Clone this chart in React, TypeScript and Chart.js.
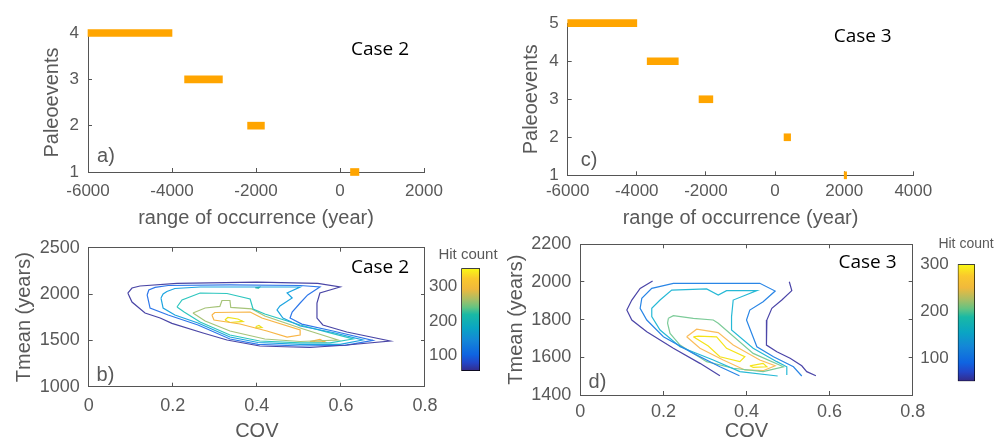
import React, { useEffect, useRef } from 'react';
import { Chart, registerables } from 'chart.js';

Chart.register(...registerables);

// ---------------- data ----------------
// panel a (Case 2): paleoevents and their range of occurrence (years)
const eventsCase2 = [4, 3, 2, 1];
const startCase2 = [-6000, -3700, -2200, 250];
const endCase2 = [-4000, -2800, -1800, 450];
// panel c (Case 3)
const eventsCase3 = [5, 4, 3, 2, 1];
const startCase3 = [-6000, -3700, -2200, 260, 2000];
const endCase3 = [-4000, -2800, -1800, 450, 2070];

const occurrenceTicksA = [-6000, -4000, -2000, 0, 2000];
const occurrenceTicksC = [-6000, -4000, -2000, 0, 2000, 4000];
const eventTicksA = [1, 2, 3, 4];
const eventTicksC = [1, 2, 3, 4, 5];
const covTicks = [0, 0.2, 0.4, 0.6, 0.8];
const tmeanTicksB = [1000, 1500, 2000, 2500];
const tmeanTicksD = [1400, 1600, 1800, 2000, 2200];
const colorbarTicks = [100, 200, 300];
const colorbarRangeB = [55, 352];
const colorbarRangeD = [50, 300];

// panel b contour lines (COV, Tmean), outer -> inner
const bLevel1 = [[0.093, 2011], [0.103, 2065], [0.122, 2087], [0.21, 2115], [0.4, 2128], [0.545, 2115], [0.598, 2076], [0.55, 2011], [0.543, 1903], [0.543, 1741], [0.557, 1666], [0.614, 1590], [0.717, 1493], [0.614, 1450], [0.526, 1423], [0.407, 1439], [0.329, 1504], [0.272, 1580], [0.198, 1684], [0.17, 1741], [0.134, 1795], [0.103, 1914], [0.093, 2011]];
const bLevel2 = [[0.139, 1990], [0.143, 2044], [0.158, 2071], [0.189, 2092], [0.336, 2098], [0.503, 2092], [0.55, 2076], [0.521, 1990], [0.503, 1903], [0.484, 1806], [0.479, 1741], [0.507, 1676], [0.581, 1601], [0.676, 1499], [0.61, 1445], [0.503, 1439], [0.403, 1456], [0.336, 1515], [0.26, 1666], [0.189, 1774], [0.146, 1849], [0.139, 1990]];
const bLevel3 = [[0.172, 1957], [0.177, 2000], [0.186, 2027], [0.205, 2060], [0.265, 2076], [0.503, 2076], [0.472, 2011], [0.484, 1957], [0.455, 1871], [0.448, 1828], [0.462, 1741], [0.503, 1655], [0.581, 1585], [0.652, 1504], [0.598, 1456], [0.503, 1456], [0.403, 1477], [0.336, 1536], [0.26, 1688], [0.205, 1774], [0.177, 1849], [0.172, 1957]];
const bLevel4 = [[0.21, 1860], [0.222, 1936], [0.265, 2011], [0.329, 2006], [0.384, 1946], [0.391, 1839], [0.419, 1785], [0.503, 1666], [0.574, 1580], [0.629, 1515], [0.574, 1472], [0.503, 1472], [0.407, 1493], [0.336, 1558], [0.265, 1698], [0.227, 1806], [0.21, 1860]];
const bLevel5 = [[0.248, 1795], [0.277, 1849], [0.312, 1866], [0.317, 1930], [0.336, 1930], [0.338, 1855], [0.388, 1839], [0.419, 1763], [0.503, 1634], [0.593, 1504], [0.503, 1488], [0.419, 1515], [0.336, 1601], [0.277, 1709], [0.248, 1795]];
const bLevel6 = [[0.293, 1774], [0.3, 1801], [0.384, 1806], [0.412, 1741], [0.503, 1612], [0.503, 1558], [0.472, 1536], [0.424, 1601], [0.36, 1677], [0.298, 1720], [0.293, 1774]];
const bLevel6b = [[0.526, 1486], [0.55, 1510], [0.562, 1483], [0.526, 1486]];
const bLevel7 = [[0.324, 1720], [0.331, 1747], [0.355, 1731], [0.367, 1704], [0.336, 1693], [0.324, 1720]];
const bLevel7b = [[0.398, 1650], [0.405, 1661], [0.412, 1639], [0.4, 1634], [0.398, 1650]];
const bSpot = [[0.396, 2068], [0.406, 2072], [0.404, 2064], [0.396, 2068]];

// panel d contour lines
const dLevel1a = [[0.174, 2005], [0.144, 1966], [0.124, 1904], [0.112, 1851], [0.124, 1798], [0.16, 1736], [0.224, 1648], [0.288, 1568], [0.336, 1502]];
const dLevel1b = [[0.503, 2001], [0.509, 1954], [0.485, 1904], [0.461, 1860], [0.449, 1798], [0.447, 1718], [0.449, 1665], [0.473, 1630], [0.505, 1595], [0.533, 1555], [0.545, 1524], [0.567, 1502]];
const dLevel2 = [[0.383, 1502], [0.336, 1550], [0.272, 1621], [0.2, 1709], [0.16, 1798], [0.144, 1860], [0.148, 1913], [0.172, 1966], [0.224, 1993], [0.432, 1993], [0.469, 1952], [0.44, 1895], [0.408, 1851], [0.4, 1798], [0.425, 1656], [0.465, 1603], [0.513, 1550], [0.533, 1501]];
const dLevel3 = [[0.475, 1501], [0.384, 1524], [0.32, 1586], [0.24, 1656], [0.192, 1745], [0.172, 1816], [0.172, 1860], [0.192, 1904], [0.22, 1957], [0.304, 1963], [0.332, 1931], [0.352, 1954], [0.425, 1954], [0.368, 1904], [0.364, 1816], [0.364, 1745], [0.416, 1648], [0.473, 1577], [0.497, 1550], [0.497, 1506]];
const dLevel4 = [[0.212, 1807], [0.224, 1821], [0.272, 1807], [0.32, 1798], [0.332, 1781], [0.416, 1621], [0.489, 1550], [0.44, 1524], [0.368, 1542], [0.304, 1577], [0.24, 1665], [0.216, 1727], [0.21, 1781], [0.212, 1807]];
const dLevel5 = [[0.256, 1709], [0.28, 1749], [0.332, 1731], [0.368, 1665], [0.432, 1586], [0.469, 1555], [0.44, 1529], [0.396, 1533], [0.344, 1586], [0.288, 1648], [0.256, 1709]];
const dLevel6 = [[0.272, 1709], [0.284, 1713], [0.328, 1709], [0.352, 1648], [0.396, 1603], [0.384, 1577], [0.336, 1603], [0.308, 1660], [0.272, 1709]];
const dLevel6b = [[0.408, 1555], [0.44, 1568], [0.449, 1550], [0.416, 1547], [0.408, 1555]];

const colorsB = ['#4a46a6', '#2f78ea', '#1ea5e0', '#2ec6bf', '#a7c47a', '#f8b545', '#ece21c'];
const colorsD = ['#4c46a8', '#2a86e6', '#27b9d6', '#7ccb98', '#fbbd5c', '#f5e41a'];
const spotColor = '#18b394';

const parulaStops: [number, string][] = [
  [0, 'rgb(53,42,135)'], [0.08, 'rgb(35,70,200)'], [0.16, 'rgb(15,100,225)'], [0.3, 'rgb(20,135,215)'],
  [0.42, 'rgb(10,165,195)'], [0.55, 'rgb(25,185,165)'], [0.62, 'rgb(100,195,130)'], [0.7, 'rgb(170,190,100)'],
  [0.8, 'rgb(240,185,60)'], [0.9, 'rgb(250,200,45)'], [1, 'rgb(249,250,20)'],
];

// ---------------- styling / layout ----------------
const W = 1006;
const H = 444;
const FONT = "'Liberation Sans', Arial, Helvetica, sans-serif";
const CASE_FONT = "'Open Sans', 'Noto Sans', sans-serif";
const GRAY = '#595959';
const AXIS = '#555555';
const ORANGE = '#FFA500';

const fixedTicks = (values: number[]) => (scale: any) => {
  scale.ticks = values.map((v) => ({ value: v }));
};

function makeScale(axis: 'x' | 'y', position: string, min: number, max: number, ticks: number[], size: number, o: any = {}) {
  return {
    type: 'linear',
    axis,
    position,
    min,
    max,
    offset: false,
    display: true,
    afterBuildTicks: fixedTicks(ticks),
    afterFit: (s: any) => {
      if (axis === 'x') s.height = size;
      else s.width = size;
    },
    grid: { display: true, offset: false, drawOnChartArea: false, drawTicks: true, tickLength: -4, color: AXIS, lineWidth: 1 },
    border: { display: true, color: AXIS, width: 1 },
    ticks: {
      display: !!o.labels,
      color: GRAY,
      font: { family: FONT, size: o.fontSize ?? 17 },
      padding: o.pad ?? 13,
      autoSkip: false,
      maxRotation: 0,
      minRotation: 0,
      callback: (v: any) => String(v),
    },
    title: o.title
      ? { display: true, text: o.title, color: GRAY, font: { family: FONT, size: 20, lineHeight: 1.2 }, padding: 0 }
      : { display: false },
  };
}

type TextItem = { text: string; x: number; y: number; size: number; family: string; color: string };
const textPlugin = (items: TextItem[]) => ({
  id: 'texts',
  afterDraw(chart: any) {
    const ctx = chart.ctx;
    items.forEach((it) => {
      ctx.save();
      ctx.font = `${it.size}px ${it.family}`;
      ctx.fillStyle = it.color;
      ctx.textAlign = 'center';
      ctx.textBaseline = 'middle';
      ctx.fillText(it.text, it.x, it.y);
      ctx.restore();
    });
  },
});

const baseOptions = (padding: any) => ({
  animation: false,
  responsive: false,
  devicePixelRatio: 1,
  layout: { padding },
  plugins: { legend: { display: false }, tooltip: { enabled: false } },
});

function eventsConfig(events: number[], start: number[], end: number[], xTicks: number[], yTicks: number[], xMax: number, yMax: number, lay: any, texts: TextItem[]) {
  return {
    type: 'bar',
    data: {
      datasets: [
        {
          data: events.map((e, i) => ({ x: [start[i], end[i]], y: e })),
          backgroundColor: ORANGE,
          borderWidth: 0,
          barThickness: 7,
          clip: false,
        },
      ],
    },
    options: {
      ...baseOptions(lay.padding),
      indexAxis: 'y',
      scales: {
        x: makeScale('x', 'bottom', -6000, xMax, xTicks, lay.xh, { labels: true, pad: lay.xpad, title: 'range of occurrence (year)' }),
        y: makeScale('y', 'left', 1, yMax, yTicks, lay.yw, { labels: true, pad: 13, title: 'Paleoevents' }),
      },
    },
    plugins: [textPlugin(texts)],
  };
}

function lineDs(pts: number[][], color: string) {
  return {
    data: pts.map(([x, y]) => ({ x, y })),
    showLine: true,
    borderColor: color,
    backgroundColor: color,
    borderWidth: 1.2,
    pointRadius: 0,
    fill: false,
    tension: 0,
  };
}

function contourConfig(lines: { pts: number[][]; color: string }[], yMin: number, yMax: number, yTicks: number[], lay: any, texts: TextItem[]) {
  return {
    type: 'scatter',
    data: { datasets: lines.map((l) => lineDs(l.pts, l.color)) },
    options: {
      ...baseOptions(lay.padding),
      scales: {
        x: makeScale('x', 'bottom', 0, 0.8, covTicks, lay.xh, { labels: true, pad: lay.xpad, fontSize: 18, title: 'COV' }),
        y: makeScale('y', 'left', yMin, yMax, yTicks, lay.yw, { labels: true, pad: 13, fontSize: 18, title: 'Tmean (years)' }),
        x2: makeScale('x', 'top', 0, 0.8, covTicks, 0, {}),
        y2: makeScale('y', 'right', yMin, yMax, yTicks, 0, {}),
      },
    },
    plugins: [textPlugin(texts)],
  };
}

function parulaGradient(ctx: any) {
  const chart = ctx.chart;
  const a = chart.chartArea;
  if (!a) return 'transparent';
  const g = chart.ctx.createLinearGradient(0, a.bottom, 0, a.top);
  parulaStops.forEach(([t, c]) => g.addColorStop(t, c));
  return g;
}

function colorbarConfig(range: number[], padding: any, labelPad: number, texts: TextItem[]) {
  return {
    type: 'bar',
    data: {
      labels: ['Hit count'],
      datasets: [
        {
          data: [range],
          backgroundColor: parulaGradient,
          borderColor: '#000000',
          borderWidth: 1,
          borderSkipped: false,
          barPercentage: 1,
          categoryPercentage: 1,
        },
      ],
    },
    options: {
      ...baseOptions(padding),
      scales: {
        x: { display: false },
        y: {
          type: 'linear',
          position: 'left',
          min: range[0],
          max: range[1],
          afterBuildTicks: fixedTicks(colorbarTicks),
          afterFit: (s: any) => {
            s.width = 40;
          },
          grid: { display: false, drawTicks: false },
          border: { display: false },
          ticks: { color: GRAY, font: { family: FONT, size: 17 }, padding: labelPad, callback: (v: any) => String(v) },
        },
      },
    },
    plugins: [textPlugin(texts)],
  };
}

const caseText = (text: string, x: number, y: number): TextItem => ({ text, x, y, size: 19, family: CASE_FONT, color: '#000000' });
const panelText = (text: string, x: number, y: number): TextItem => ({ text, x, y, size: 20, family: FONT, color: GRAY });
const hitText = (x: number, y: number, size: number): TextItem => ({ text: 'Hit count', x, y, size, family: FONT, color: GRAY });

export default function App() {
  const refA = useRef<HTMLCanvasElement>(null);
  const refB = useRef<HTMLCanvasElement>(null);
  const refC = useRef<HTMLCanvasElement>(null);
  const refD = useRef<HTMLCanvasElement>(null);
  const refCbB = useRef<HTMLCanvasElement>(null);
  const refCbD = useRef<HTMLCanvasElement>(null);

  useEffect(() => {
    const charts: Chart[] = [];
    const make = (el: HTMLCanvasElement | null, cfg: any) => {
      if (el) charts.push(new Chart(el, cfg));
    };

    make(
      refA.current,
      eventsConfig(eventsCase2, startCase2, endCase2, occurrenceTicksA, eventTicksA, 2000, 4,
        { padding: { left: 40.5, top: 33, right: W - 424, bottom: H - 230.3 }, xh: 58.3, yw: 47.5, xpad: 13.5 },
        [caseText('Case 2', 380, 50), panelText('a)', 106, 156)])
    );
    make(
      refC.current,
      eventsConfig(eventsCase3, startCase3, endCase3, occurrenceTicksC, eventTicksC, 4000, 5,
        { padding: { left: 519.7, top: 17.7, right: W - 913.3, bottom: H - 230 }, xh: 54.7, yw: 48, xpad: 10.2 },
        [caseText('Case 3', 862.7, 36.7), panelText('c)', 589, 160)])
    );
    make(
      refB.current,
      contourConfig(
        [
          { pts: bLevel1, color: colorsB[0] },
          { pts: bLevel2, color: colorsB[1] },
          { pts: bLevel3, color: colorsB[2] },
          { pts: bLevel4, color: colorsB[3] },
          { pts: bSpot, color: spotColor },
          { pts: bLevel5, color: colorsB[4] },
          { pts: bLevel6, color: colorsB[5] },
          { pts: bLevel6b, color: colorsB[5] },
          { pts: bLevel7, color: colorsB[6] },
          { pts: bLevel7b, color: colorsB[6] },
        ],
        1000, 2500, tmeanTicksB,
        { padding: { left: 12, top: 247.7, right: W - 425, bottom: H - 443 }, xh: 56.3, yw: 76.7, xpad: 13 },
        [caseText('Case 2', 380, 268), panelText('b)', 105.5, 375)]
      )
    );
    make(
      refD.current,
      contourConfig(
        [
          { pts: dLevel1a, color: colorsD[0] },
          { pts: dLevel1b, color: colorsD[0] },
          { pts: dLevel2, color: colorsD[1] },
          { pts: dLevel3, color: colorsD[2] },
          { pts: dLevel4, color: colorsD[3] },
          { pts: dLevel5, color: colorsD[4] },
          { pts: dLevel6, color: colorsD[5] },
          { pts: dLevel6b, color: colorsD[5] },
        ],
        1400, 2200, tmeanTicksD,
        { padding: { left: 504.5, top: 244.3, right: W - 912.7, bottom: H - 443.7 }, xh: 48.7, yw: 75.8, xpad: 10 },
        [caseText('Case 3', 867.5, 262.7), panelText('d)', 597.5, 382)]
      )
    );
    make(
      refCbB.current,
      colorbarConfig(colorbarRangeB, { left: 421.3, top: 268.3, right: W - 480, bottom: H - 371 }, 4, [hitText(468, 255, 15)])
    );
    make(
      refCbD.current,
      colorbarConfig(colorbarRangeD, { left: 917.7, top: 264.3, right: W - 975, bottom: H - 381.3 }, 9, [hitText(966, 244.3, 14)])
    );

    return () => charts.forEach((c) => c.destroy());
  }, []);

  const canvasStyle: React.CSSProperties = { position: 'absolute', left: 0, top: 0, width: W, height: H, display: 'block' };
  return (
    <div style={{ position: 'absolute', left: 0, top: 0, width: W, height: H, background: '#ffffff', overflow: 'hidden' }}>
      <canvas ref={refA} width={W} height={H} style={canvasStyle} />
      <canvas ref={refC} width={W} height={H} style={canvasStyle} />
      <canvas ref={refB} width={W} height={H} style={canvasStyle} />
      <canvas ref={refD} width={W} height={H} style={canvasStyle} />
      <canvas ref={refCbB} width={W} height={H} style={canvasStyle} />
      <canvas ref={refCbD} width={W} height={H} style={canvasStyle} />
    </div>
  );
}
